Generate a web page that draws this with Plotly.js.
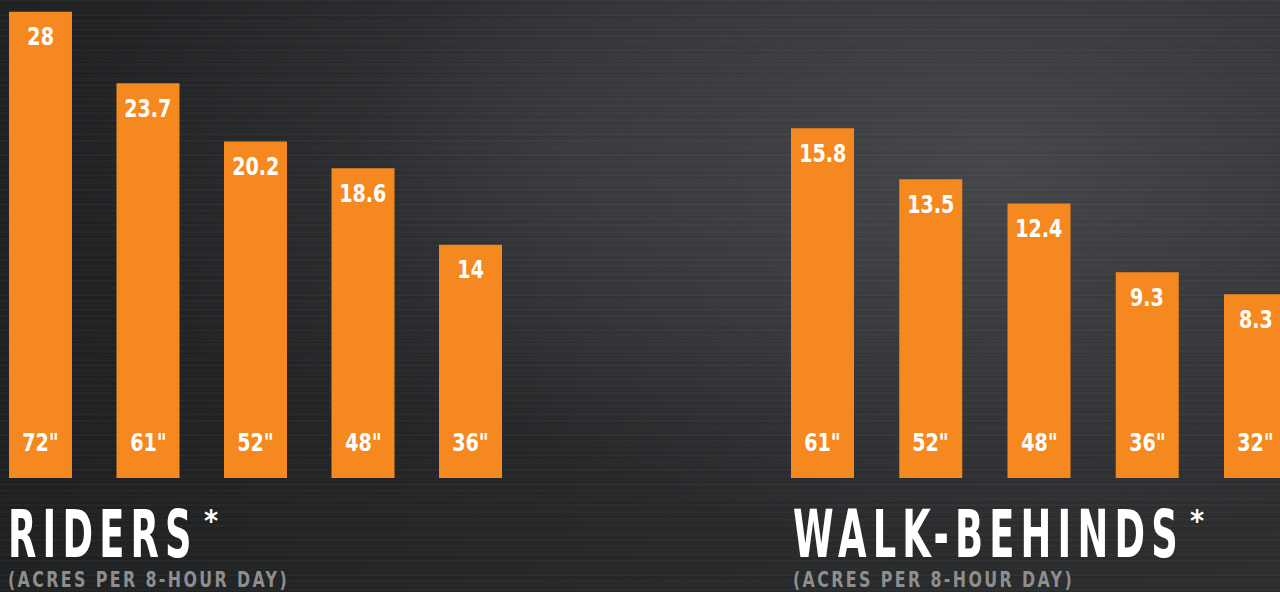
<!DOCTYPE html>
<html>
<head>
<meta charset="utf-8">
<script src="https://cdn.plot.ly/plotly-3.0.1.min.js"></script>
<style>
  html, body { margin: 0; padding: 0; }
  body {
    width: 1280px; height: 592px; overflow: hidden;
    background-color: #252628;
    background-image:
      repeating-linear-gradient(180deg, rgba(255,255,255,0.022) 0px, rgba(255,255,255,0.022) 1px, rgba(0,0,0,0.035) 1px, rgba(0,0,0,0.035) 2px, rgba(0,0,0,0) 2px, rgba(0,0,0,0) 5px),
      repeating-linear-gradient(180deg, rgba(255,255,255,0.018) 0px, rgba(255,255,255,0.018) 2px, rgba(0,0,0,0) 2px, rgba(0,0,0,0) 7px),
      radial-gradient(ellipse 50% 65% at 78% 28%, rgba(72,73,76,0.9), rgba(72,73,76,0) 100%),
      radial-gradient(ellipse 40% 50% at 45% 25%, rgba(60,61,64,0.6), rgba(60,61,64,0) 100%),
      linear-gradient(90deg, #1f2022 0%, #262729 45%, #2c2d2f 100%);
  }
  #chart { width: 1280px; height: 592px; }
  #chart g.annotation text.annotation-text {
    transform-box: fill-box;
    transform-origin: center;
    transform: scaleX(0.85);
  }
  #chart g.annotation[data-index="20"] text.annotation-text,
  #chart g.annotation[data-index="22"] text.annotation-text {
    letter-spacing: 10px;
    transform-origin: left center;
    transform: scaleX(0.62);
  }
  #chart g.annotation[data-index="21"] text.annotation-text,
  #chart g.annotation[data-index="23"] text.annotation-text {
    letter-spacing: 3px;
    transform-origin: left center;
    transform: scaleX(0.8);
  }
  #chart g.annotation[data-index="24"] text.annotation-text,
  #chart g.annotation[data-index="25"] text.annotation-text {
    transform: none;
  }
</style>
</head>
<body>
<div id="chart"></div>
<script>
// ---- data ----
const riderSizes = ['72"', '61"', '52"', '48"', '36"'];
const riderAcres = [28, 23.7, 20.2, 18.6, 14];
const walkSizes = ['61"', '52"', '48"', '36"', '32"'];
const walkAcres = [15.8, 13.5, 12.4, 9.3, 8.3];
const riderTitle = 'RIDERS';
const walkTitle = 'WALK-BEHINDS';
const subTitle = '(ACRES PER 8-HOUR DAY)';

const ORANGE = '#F5891F';
const FONT = 'DejaVu Sans Condensed, DejaVu Sans, sans-serif';

const traces = [
  {
    type: 'bar', x: riderSizes, y: riderAcres, xaxis: 'x', yaxis: 'y',
    marker: { color: ORANGE, line: { width: 0 } }, width: 0.586,
    hoverinfo: 'none', showlegend: false
  },
  {
    type: 'bar', x: walkSizes, y: walkAcres, xaxis: 'x2', yaxis: 'y2',
    marker: { color: ORANGE, line: { width: 0 } }, width: 0.582,
    hoverinfo: 'none', showlegend: false
  }
];

const annotations = [];
function valueLabels(xs, ys, xr, yr) {
  xs.forEach((c, i) => annotations.push({
    x: c, y: ys[i], xref: xr, yref: yr, text: String(ys[i]),
    showarrow: false, xanchor: 'center', yanchor: 'middle', yshift: -25,
    font: { family: FONT, size: 25, color: '#ffffff', weight: 'bold' }
  }));
}
function sizeLabels(xs, xr, yr) {
  xs.forEach((c) => annotations.push({
    x: c, y: 0, xref: xr, yref: yr, text: c,
    showarrow: false, xanchor: 'center', yanchor: 'middle', yshift: 36,
    font: { family: FONT, size: 25, color: '#ffffff', weight: 'bold' }
  }));
}
valueLabels(riderSizes, riderAcres, 'x', 'y');
valueLabels(walkSizes, walkAcres, 'x2', 'y2');
sizeLabels(riderSizes, 'x', 'y');
sizeLabels(walkSizes, 'x2', 'y2');

function titleBlock(text, xpx) {
  annotations.push({
    xref: 'paper', yref: 'paper', x: xpx / 1280, y: (592 - 534) / 592,
    xanchor: 'left', yanchor: 'middle', align: 'left', showarrow: false,
    text: text,
    font: { family: FONT, size: 66, color: '#ffffff', weight: 'bold' }
  });
  annotations.push({
    xref: 'paper', yref: 'paper', x: xpx / 1280, y: (592 - 579) / 592,
    xanchor: 'left', yanchor: 'middle', align: 'left', showarrow: false,
    text: subTitle,
    font: { family: FONT, size: 22, color: '#8c8f8e', weight: 'bold' }
  });
}
titleBlock(riderTitle, 6);
titleBlock(walkTitle, 791);
// superscript asterisks after the titles
[[211, riderTitle], [1197, walkTitle]].forEach(([xpx]) => annotations.push({
  xref: 'paper', yref: 'paper', x: xpx / 1280, y: (592 - 520) / 592,
  xanchor: 'center', yanchor: 'middle', showarrow: false, text: '*',
  font: { family: FONT, size: 30, color: '#ffffff', weight: 'bold' }
}));

const hidden = { visible: false, showgrid: false, zeroline: false, fixedrange: true };
const yDom = [(592 - 478) / 592, 1];

const layout = {
  width: 1280, height: 592, autosize: false,
  margin: { l: 0, r: 0, t: 0, b: 0, pad: 0 },
  paper_bgcolor: 'rgba(0,0,0,0)', plot_bgcolor: 'rgba(0,0,0,0)',
  showlegend: false,
  xaxis: Object.assign({}, hidden, { type: 'category', domain: [0, 0.45], range: [-0.3767, 4.9814], anchor: 'y' }),
  yaxis: Object.assign({}, hidden, { domain: yDom, range: [0, 28.7], anchor: 'x' }),
  xaxis2: Object.assign({}, hidden, { type: 'category', domain: [0.55, 1], range: [-1.0947, 4.2263], anchor: 'y2' }),
  yaxis2: Object.assign({}, hidden, { domain: yDom, range: [0, 21.6], anchor: 'x2' }),
  annotations: annotations
};

Plotly.newPlot('chart', traces, layout, { displayModeBar: false, staticPlot: true });
</script>
</body>
</html>
